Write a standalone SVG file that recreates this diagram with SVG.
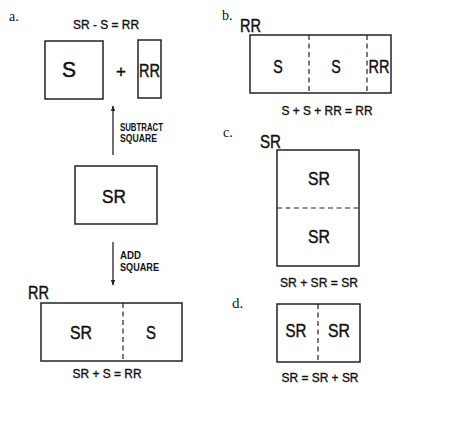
<svg xmlns="http://www.w3.org/2000/svg" width="449" height="435" viewBox="0 0 449 435">
<style>
.bx{fill:none;stroke:#222;stroke-width:1.5}
.ds{fill:none;stroke:#222;stroke-width:1.2;stroke-dasharray:5,3.5}
.t{font-family:"Liberation Sans",Arial,sans-serif;fill:#111;text-anchor:middle;stroke:#111;stroke-width:0.45}
.lb{font-size:19px}
.eq{font-size:13px;stroke-width:0.35}
.sm{font-size:10px;font-weight:bold;text-anchor:start;stroke-width:0}
.cr{font-size:18px;text-anchor:start}
.pl{font-family:"Liberation Serif","Times New Roman",serif;font-size:14px;fill:#111}
.ln{stroke:#222;stroke-width:1.3;fill:none}
</style>
<defs>
<marker id="ah" viewBox="0 0 8 10" refX="7" refY="5" markerWidth="6" markerHeight="7" orient="auto" markerUnits="userSpaceOnUse">
<path d="M0,2 L8,5 L0,8 Z" fill="#222"/>
</marker>
</defs>
<g id="panel-labels">
<text class="pl" x="9" y="21">a.</text>
<text class="pl" x="222" y="20">b.</text>
<text class="pl" x="223" y="137">c.</text>
<text class="pl" x="232" y="308" style="font-size:15px">d.</text>
</g>
<g id="a-eq">
<text class="t eq" x="106" y="29" textLength="66" lengthAdjust="spacingAndGlyphs">SR - S = RR</text>
</g>
<g id="a-S">
<rect class="bx" x="45" y="41" width="58" height="58"/>
<text class="t" x="69" y="77" style="font-size:22px" textLength="14" lengthAdjust="spacingAndGlyphs">S</text>
</g>
<g id="a-plus">
<text class="t" x="121" y="77" style="font-size:17px">+</text>
</g>
<g id="a-RR">
<rect class="bx" x="138" y="40" width="23" height="58"/>
<text class="t lb" x="149.5" y="77" textLength="21" lengthAdjust="spacingAndGlyphs">RR</text>
</g>
<g id="a-SR">
<rect class="bx" x="75" y="166" width="82" height="58"/>
<text class="t lb" x="114" y="203" textLength="24" lengthAdjust="spacingAndGlyphs">SR</text>
</g>
<g id="a-result">
<text class="t cr" x="28" y="299" textLength="21" lengthAdjust="spacingAndGlyphs">RR</text>
<rect class="bx" x="41" y="303" width="141" height="58"/>
<line class="ds" x1="123" y1="303" x2="123" y2="361"/>
<text class="t lb" x="81" y="339" textLength="22" lengthAdjust="spacingAndGlyphs">SR</text>
<text class="t lb" x="151" y="339" textLength="10" lengthAdjust="spacingAndGlyphs">S</text>
<text class="t eq" x="107" y="378" textLength="69" lengthAdjust="spacingAndGlyphs">SR + S = RR</text>
</g>
<g id="connectors">
<line class="ln" x1="113" y1="155" x2="113" y2="106" marker-end="url(#ah)"/>
<line class="ln" x1="113" y1="242" x2="113" y2="285" marker-end="url(#ah)"/>
<text class="t sm" x="120" y="131" textLength="43" lengthAdjust="spacingAndGlyphs">SUBTRACT</text>
<text class="t sm" x="120" y="142" textLength="37" lengthAdjust="spacingAndGlyphs">SQUARE</text>
<text class="t sm" x="120" y="259" textLength="21" lengthAdjust="spacingAndGlyphs">ADD</text>
<text class="t sm" x="120" y="271" textLength="39" lengthAdjust="spacingAndGlyphs">SQUARE</text>
</g>
<g id="b">
<text class="t cr" x="240" y="32" textLength="21" lengthAdjust="spacingAndGlyphs">RR</text>
<rect class="bx" x="250" y="35" width="141" height="58"/>
<line class="ds" x1="309" y1="35" x2="309" y2="93"/>
<line class="ds" x1="367" y1="35" x2="367" y2="93"/>
<text class="t lb" x="278" y="73" textLength="9.5" lengthAdjust="spacingAndGlyphs">S</text>
<text class="t lb" x="336" y="73" textLength="9.5" lengthAdjust="spacingAndGlyphs">S</text>
<text class="t lb" x="379" y="73" textLength="21" lengthAdjust="spacingAndGlyphs">RR</text>
<text class="t eq" x="327" y="115" textLength="91" lengthAdjust="spacingAndGlyphs">S + S + RR = RR</text>
</g>
<g id="c">
<text class="t cr" x="260" y="148" textLength="21" lengthAdjust="spacingAndGlyphs">SR</text>
<rect class="bx" x="277" y="150" width="82" height="116"/>
<line class="ds" x1="277" y1="208" x2="359" y2="208"/>
<text class="t lb" x="319" y="185" textLength="22" lengthAdjust="spacingAndGlyphs">SR</text>
<text class="t lb" x="319" y="243" textLength="22" lengthAdjust="spacingAndGlyphs">SR</text>
<text class="t eq" x="319" y="287" textLength="78" lengthAdjust="spacingAndGlyphs">SR + SR = SR</text>
</g>
<g id="d">
<rect class="bx" x="277" y="304" width="83" height="58"/>
<line class="ds" x1="318" y1="304" x2="318" y2="362"/>
<text class="t lb" x="296" y="337" textLength="21" lengthAdjust="spacingAndGlyphs">SR</text>
<text class="t lb" x="339" y="337" textLength="22" lengthAdjust="spacingAndGlyphs">SR</text>
<text class="t eq" x="320" y="382" textLength="77" lengthAdjust="spacingAndGlyphs">SR = SR + SR</text>
</g>
</svg>
